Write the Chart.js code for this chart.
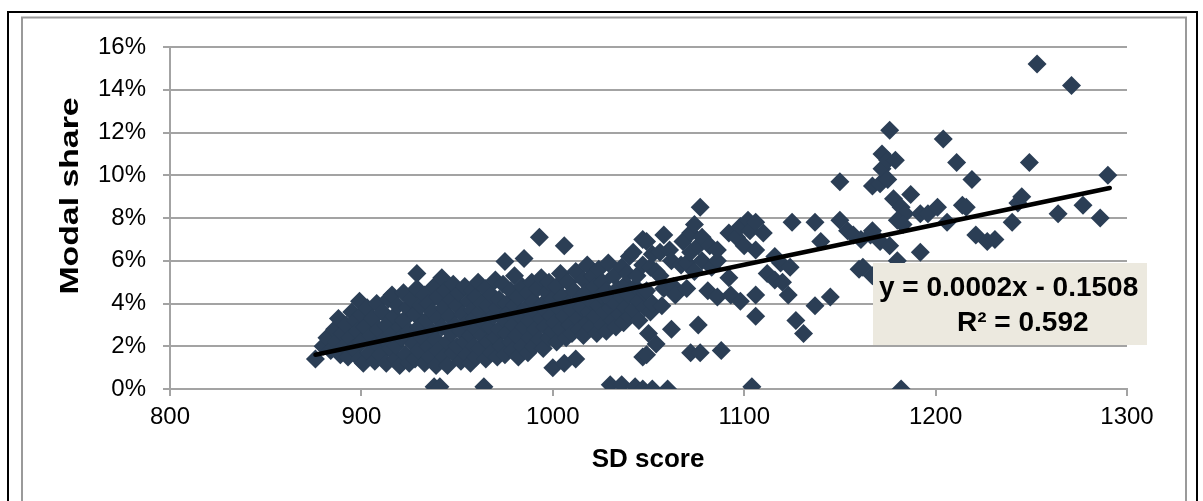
<!DOCTYPE html>
<html>
<head>
<meta charset="utf-8">
<script src="https://cdn.jsdelivr.net/npm/chart.js@4/dist/chart.umd.min.js"></script>
<style>
  html, body { margin: 0; padding: 0; background: #fff; }
  #chart { display: block; }
</style>
</head>
<body>
<canvas id="chart" width="1203" height="501"></canvas>
<script>
var xTicks = [800, 900, 1000, 1100, 1200, 1300];
var yTicks = [0, 2, 4, 6, 8, 10, 12, 14, 16];
var xTitle = "SD score";
var yTitle = "Modal share";
var equation = ["y = 0.0002x - 0.1508", "R\u00b2 = 0.592"];

// [SD score, modal share %]
var lowScores = [
  [876,1.4],[880,2.0],[882,2.4],[884,1.8],[886,2.8],[887,2.2],[888,3.3],[889,1.6],[890,2.6],[891,2.0],
  [892,3.0],[893,1.5],[894,2.4],[895,3.6],[896,1.9],[897,3.2],[898,2.7],[899,4.1],[899,1.4],[900,2.2],[900,3.5],
  [901,1.2],[902,2.9],[903,3.8],[904,1.7],[905,2.5],[906,3.3],[907,1.3],[908,2.1],[908,4.0],[909,2.8],
  [910,1.6],[911,3.6],[912,2.3],[913,1.2],[913,3.0],[914,4.2],[915,1.9],[916,4.4],[916,2.6],[917,3.4],
  [918,1.4],[918,2.0],[919,3.9],[920,2.9],[920,1.1],
  [921,2.4],[922,4.5],[922,3.2],[923,1.6],[924,3.8],[925,1.2],[925,2.7],[926,4.2],[927,2.1],[928,3.5],
  [928,1.4],[929,5.4],[929,4.7],[930,2.9],[930,1.8],[931,3.9],[932,2.4],[933,1.2],[933,4.4],[934,3.2],
  [935,2.0],[935,4.0],[936,1.5],[937,2.7],[937,3.6],[938,4.8],[938,0.1],[939,1.1],[939,2.3],[940,3.3],
  [940,4.3],[940,1.8]
];
var midScores = [
  [941,0.1],[942,5.2],[942,2.9],[943,1.5],[943,3.8],[944,4.6],[945,2.2],[945,1.1],[946,3.4],[947,4.2],
  [947,2.6],[948,1.7],[948,4.9],[949,3.0],[950,2.0],[950,3.9],[951,4.5],[952,1.3],[952,2.7],[953,3.5],
  [954,4.8],[954,2.2],[955,1.6],[955,3.1],[956,4.1],[957,2.5],[957,1.2],[958,3.7],[958,4.6],[959,2.0],
  [959,3.3],[960,1.5],[960,2.8],[960,4.3],
  [961,5.0],[962,3.6],[962,1.9],[963,2.5],[963,4.0],[964,0.1],[964,3.1],[965,1.4],[965,4.7],[966,2.2],
  [966,3.9],[967,2.9],[968,1.7],[968,4.4],[969,3.4],[970,2.4],[970,5.1],[971,1.5],[971,3.8],[972,2.8],
  [972,4.2],[973,2.0],[974,3.3],[974,4.9],[975,5.96],[975,1.6],[976,2.6],[976,4.0],[977,3.6],[978,2.2],
  [978,4.6],[979,1.8],[979,3.0],[980,3.9],[980,5.3],
  [981,2.5],[982,4.3],[982,1.5],[983,3.4],[984,2.0],[984,4.8],[985,6.1],[985,2.9],[986,3.8],[987,1.7],
  [987,4.5],[988,2.4],[988,3.2],[989,5.0],[990,2.0],[990,4.1],[991,2.8],[991,3.6],[992,4.7],[993,7.1],
  [993,2.3],[994,3.3],[994,5.2],[995,1.9],[995,4.0],[996,2.9],[996,3.7],[997,4.5],[998,2.4],[998,5.0],
  [999,3.4],[1000,1.0],[1000,4.2],[1000,2.7]
];
var upperScores = [
  [1001,3.1],[1002,4.8],[1002,2.2],[1003,3.8],[1004,5.4],[1004,2.8],[1005,4.3],[1006,6.7],[1006,1.2],[1006,3.4],
  [1007,2.4],[1008,4.0],[1008,5.0],[1009,3.0],[1010,3.7],[1010,2.6],[1011,4.6],[1012,1.4],[1012,5.5],[1013,3.3],
  [1014,2.8],[1014,4.2],[1015,3.8],[1016,5.1],[1016,2.5],[1017,4.5],[1018,3.1],[1018,5.8],[1019,3.6],[1020,4.1],
  [1020,2.9],
  [1021,5.3],[1022,3.4],[1022,4.8],[1023,2.6],[1024,3.9],[1024,5.6],[1025,4.4],[1026,3.0],[1026,5.0],[1027,3.6],
  [1028,4.6],[1028,2.7],[1029,5.9],[1030,0.2],[1030,3.8],[1030,4.2],[1031,3.2],[1032,5.3],[1033,4.0],[1033,2.9],
  [1034,4.7],[1035,3.5],[1036,0.2],[1036,5.7],[1036,4.3],[1037,3.1],[1038,3.8],[1038,4.9],[1039,5.4],[1040,3.4],
  [1040,4.4],[1040,6.2],
  [1042,6.4],[1042,3.7],[1043,0.1],[1043,4.8],[1044,5.3],[1045,3.2],[1045,4.1],[1047,7.0],[1047,1.5],[1047,0.0],
  [1047,5.8],[1048,3.8],[1048,4.5],[1049,6.9],[1049,1.6],[1049,4.6],[1050,2.6],[1051,5.7],[1051,3.6],[1052,0.0],
  [1052,6.3],[1052,4.0],[1054,2.1],[1054,5.5],[1056,6.4],[1056,5.3],[1057,3.9],[1058,7.2],[1058,4.7],[1060,0.0],
  [1061,6.5],[1062,6.0],[1062,2.8],[1063,4.8],[1064,4.4]
];
var highScores = [
  [1067,5.8],[1068,6.9],[1070,5.9],[1070,4.7],[1072,7.3],[1072,6.4],[1072,1.7],[1074,7.7],[1074,5.5],[1076,6.7],
  [1076,3.0],[1077,8.5],[1077,1.7],[1078,7.1],[1078,6.0],[1081,4.6],[1082,6.7],[1083,5.7],[1086,6.0],[1086,6.5],
  [1086,4.3],[1088,1.8],[1092,7.3],[1092,5.2],[1093,4.4],[1096,7.1],[1098,7.6],[1098,4.1],[1100,6.7],[1102,7.9],
  [1103,7.4],[1104,0.1],[1106,7.8],[1106,6.5],[1106,4.4],[1106,3.4],[1110,7.3],
  [1112,5.4],[1116,6.2],[1116,5.1],[1119,5.9],[1120,5.0],[1123,4.4],[1124,5.7],[1125,7.8],[1127,3.2],
  [1131,2.6],[1137,7.8],[1137,3.9],[1140,6.9],[1145,4.3],[1150,9.7],[1150,7.9],[1154,7.4],[1157,7.2],[1160,5.6],
  [1161,7.0],[1162,5.7],
  [1166,7.2],[1167,9.5],[1167,5.3],[1167,7.4],[1171,6.9],[1171,9.6],[1172,11.0],[1172,10.3],[1175,10.7],[1175,9.8],
  [1176,12.1],[1176,6.7],[1179,10.7],[1180,6.0],[1178,8.9],[1187,9.1],[1182,8.5],[1184,8.2],[1180,7.9],[1183,7.7],
  [1192,8.2],[1196,8.2],[1201,8.5],[1182,0.0],[1192,6.4],
  [1204,11.7],[1206,7.8],[1211,10.6],[1214,8.6],[1216,8.5],[1219,9.8],[1221,7.2],[1227,6.9],[1231,7.0],[1240,7.8],
  [1243,8.7],[1245,9.0],[1249,10.6],[1253,15.2],[1264,8.2],[1271,14.2],[1277,8.6],[1286,8.0],[1290,10.0]
];
var trendScores = [876, 1291];
var trendShares = [1.6, 9.4];

var points = lowScores.concat(midScores, upperScores, highScores).map(function (p) {
  return { x: p[0], y: p[1] };
});
var trendPoints = trendScores.map(function (s, i) {
  return { x: s, y: trendShares[i] };
});

var gridColor = "#a3a3a3";
var markerColor = "#2b3e55";
var fontFamily = "'Liberation Sans', Arial, sans-serif";

var framePlugin = {
  id: "frame",
  beforeDraw: function (chart) {
    var ctx = chart.ctx;
    ctx.save();
    ctx.fillStyle = "#fff";
    ctx.fillRect(0, 0, chart.width, chart.height);
    ctx.strokeStyle = "#000";
    ctx.lineWidth = 2;
    ctx.strokeRect(8, 12, 1189, 520);
    ctx.strokeStyle = "#9a9a9a";
    ctx.lineWidth = 2;
    ctx.strokeRect(22, 17.5, 1164, 520);
    ctx.restore();
  },
  afterDatasetsDraw: function (chart) {
    var ctx = chart.ctx;
    ctx.save();
    ctx.fillStyle = "#ece9df";
    ctx.fillRect(873, 263, 274, 82);
    ctx.fillStyle = "#000";
    ctx.font = "bold 28px " + fontFamily;
    ctx.textBaseline = "middle";
    ctx.textAlign = "left";
    ctx.fillText(equation[0], 879, 288);
    ctx.fillText(equation[1], 957, 323);

    ctx.font = "bold 26px " + fontFamily;
    ctx.textAlign = "center";
    ctx.fillText(xTitle, 648, 460);
    // the vertical title is drawn longer in the original
    ctx.translate(71, 196);
    ctx.rotate(-Math.PI / 2);
    ctx.scale(1.3, 1);
    ctx.fillText(yTitle, 0, 0);
    ctx.restore();
  }
};

new Chart(document.getElementById("chart"), {
  type: "scatter",
  data: {
    datasets: [
      {
        type: "line",
        data: trendPoints,
        borderColor: "#000",
        borderWidth: 4.5,
        borderCapStyle: "round",
        pointRadius: 0,
        fill: false,
        order: 0
      },
      {
        data: points,
        pointStyle: "rectRot",
        pointRadius: 9.5,
        pointBorderWidth: 0,
        backgroundColor: markerColor,
        borderColor: markerColor,
        order: 1
      }
    ]
  },
  options: {
    responsive: false,
    animation: false,
    devicePixelRatio: 1,
    layout: { padding: { left: 0, top: 47, right: 76, bottom: 0 } },
    plugins: {
      legend: { display: false },
      tooltip: { enabled: false }
    },
    scales: {
      x: {
        type: "linear",
        min: xTicks[0],
        max: xTicks[xTicks.length - 1],
        afterBuildTicks: function (scale) {
          scale.ticks = xTicks.map(function (v) { return { value: v }; });
        },
        afterFit: function (scale) { scale.height = 112; },
        grid: { drawOnChartArea: false, color: gridColor, lineWidth: 2, tickLength: 7 },
        border: { color: gridColor, width: 2 },
        ticks: {
          padding: 7,
          color: "#000",
          maxRotation: 0,
          font: { family: fontFamily, size: 24 },
          callback: function (v) { return String(v); }
        }
      },
      y: {
        min: yTicks[0],
        max: yTicks[yTicks.length - 1],
        afterBuildTicks: function (scale) {
          scale.ticks = yTicks.map(function (v) { return { value: v }; });
        },
        afterFit: function (scale) { scale.width = 170; },
        grid: { color: gridColor, lineWidth: 2, tickLength: 7 },
        border: { color: gridColor, width: 2 },
        ticks: {
          padding: 17,
          color: "#000",
          font: { family: fontFamily, size: 24 },
          callback: function (v) { return v + "%"; }
        }
      }
    }
  },
  plugins: [framePlugin]
});
</script>
</body>
</html>
